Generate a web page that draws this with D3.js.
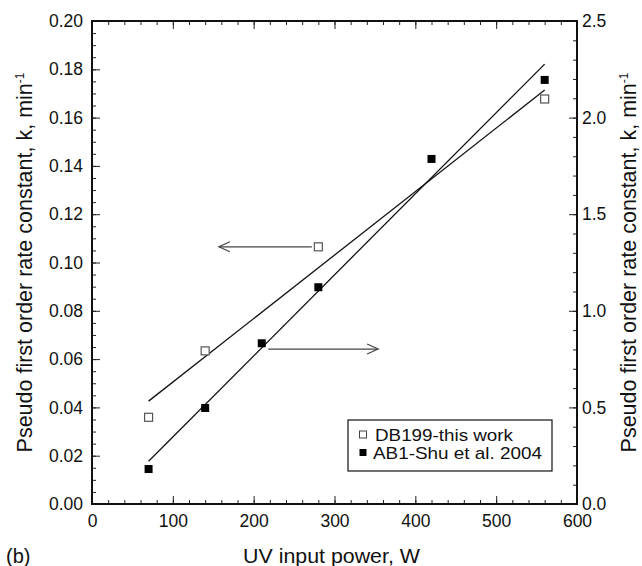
<!DOCTYPE html>
<html>
<head>
<meta charset="utf-8">
<script src="https://cdn.jsdelivr.net/npm/d3@7"></script>
<style>
  body { margin: 0; background: #fff; }
  text { font-family: "Liberation Sans", Arial, sans-serif; fill: #111; }
</style>
</head>
<body>
<svg id="drawing_region"></svg>
<script>
// tick labels
const xTicks = [0, 100, 200, 300, 400, 500, 600];
const leftTicks = [0, 0.02, 0.04, 0.06, 0.08, 0.10, 0.12, 0.14, 0.16, 0.18, 0.20];
const rightTicks = [0, 0.5, 1.0, 1.5, 2.0, 2.5];

// DB199-this work (left axis)
const powerDB = [70, 140, 280, 560];
const kDB = [0.0359, 0.0634, 0.1065, 0.1677];

// AB1-Shu et al. 2004 (right axis)
const powerAB = [70, 140, 210, 280, 420, 560];
const kAB = [0.181, 0.497, 0.832, 1.122, 1.786, 2.195];

// linear fit end points
const fitPower = [70, 560];
const fitDB = [0.0426, 0.1714];
const fitAB = [0.221, 2.277];

// axis pointer arrows: [x from, x to, y]
const arrowLeft = [272, 157, 0.1065];   // left axis units
const arrowRight = [218, 354, 0.802];   // right axis units

const config = {
    width: 642,
    height: 566,
    margin: {top: 21, right: 65, bottom: 62, left: 92},
};

const svg = d3.select('#drawing_region')
    .attr('width', config.width)
    .attr('height', config.height);

const plotLeft = config.margin.left;
const plotRight = config.width - config.margin.right;
const plotTop = config.margin.top;
const plotBottom = config.height - config.margin.bottom;

const xscale = d3.scaleLinear().domain([0, 600]).range([plotLeft, plotRight]);
const yleft = d3.scaleLinear().domain([0, 0.2]).range([plotBottom, plotTop]);
const yright = d3.scaleLinear().domain([0, 2.5]).range([plotBottom, plotTop]);

const fontTick = '17.5px';

// minor ticks first, then majors with labels
function drawAxis(axisFn, scale, major, minor, transform, fmt, pad) {
    svg.append('g')
        .attr('transform', transform)
        .call(axisFn(scale).tickValues(minor).tickSize(-4).tickFormat(''))
        .call(g => g.select('.domain').remove());
    const g = svg.append('g')
        .attr('transform', transform)
        .call(axisFn(scale).tickValues(major).tickSize(-8).tickPadding(pad).tickFormat(fmt))
        .call(g => g.select('.domain').remove());
    g.selectAll('text').style('font-size', fontTick).attr('fill', '#111');
    svg.selectAll('.tick line').attr('stroke', '#222').attr('stroke-width', 1);
    return g;
}

drawAxis(d3.axisBottom, xscale, xTicks, xscale.ticks(30), `translate(0,${plotBottom})`, d3.format('d'), 11);
drawAxis(d3.axisTop, xscale, xTicks, xscale.ticks(30), `translate(0,${plotTop})`, () => '', 0);
drawAxis(d3.axisLeft, yleft, leftTicks, yleft.ticks(50), `translate(${plotLeft},0)`, d3.format('.2f'), 9);
drawAxis(d3.axisRight, yright, rightTicks, yright.ticks(25), `translate(${plotRight},0)`, d3.format('.1f'), 5);

// frame
svg.append('rect')
    .attr('x', plotLeft).attr('y', plotTop)
    .attr('width', plotRight - plotLeft).attr('height', plotBottom - plotTop)
    .attr('fill', 'none').attr('stroke', '#111').attr('stroke-width', 2);

// fit lines
const lineDB = d3.line().x(d => xscale(d[0])).y(d => yleft(d[1]));
const lineAB = d3.line().x(d => xscale(d[0])).y(d => yright(d[1]));
svg.append('path')
    .attr('d', lineDB(fitPower.map((p, i) => [p, fitDB[i]])))
    .attr('fill', 'none').attr('stroke', '#111').attr('stroke-width', 1.3);
svg.append('path')
    .attr('d', lineAB(fitPower.map((p, i) => [p, fitAB[i]])))
    .attr('fill', 'none').attr('stroke', '#111').attr('stroke-width', 1.3);

// arrows
function arrow(x0, x1, y) {
    const dir = x1 > x0 ? 1 : -1;
    const g = svg.append('g').attr('stroke', '#444').attr('stroke-width', 1.2).attr('fill', 'none');
    g.append('line').attr('x1', x0).attr('x2', x1).attr('y1', y).attr('y2', y);
    g.append('path').attr('d', `M${x1 - dir * 11},${y - 5}L${x1},${y}L${x1 - dir * 11},${y + 5}`);
}
arrow(xscale(arrowLeft[0]), xscale(arrowLeft[1]), yleft(arrowLeft[2]));
arrow(xscale(arrowRight[0]), xscale(arrowRight[1]), yright(arrowRight[2]));

// markers
const ms = 8;
svg.append('g').selectAll('rect')
    .data(powerDB.map((p, i) => [p, kDB[i]]))
    .enter().append('rect')
    .attr('x', d => xscale(d[0]) - ms / 2)
    .attr('y', d => yleft(d[1]) - ms / 2)
    .attr('width', ms).attr('height', ms)
    .attr('fill', '#fff').attr('stroke', '#555').attr('stroke-width', 1.2);
svg.append('g').selectAll('rect')
    .data(powerAB.map((p, i) => [p, kAB[i]]))
    .enter().append('rect')
    .attr('x', d => xscale(d[0]) - ms / 2)
    .attr('y', d => yright(d[1]) - ms / 2)
    .attr('width', ms).attr('height', ms)
    .attr('fill', '#000');

// legend
const legend = svg.append('g');
legend.append('rect')
    .attr('x', 348).attr('y', 420).attr('width', 204).attr('height', 51)
    .attr('fill', '#fff').attr('stroke', '#111').attr('stroke-width', 1.2);
legend.append('rect')
    .attr('x', 359.5).attr('y', 431).attr('width', 7).attr('height', 7)
    .attr('fill', '#fff').attr('stroke', '#444').attr('stroke-width', 1);
legend.append('rect')
    .attr('x', 359.5).attr('y', 449).attr('width', 7).attr('height', 7)
    .attr('fill', '#000');
legend.append('text')
    .attr('x', 375).attr('y', 441).style('font-size', '17px')
    .attr('textLength', 138).attr('lengthAdjust', 'spacingAndGlyphs')
    .text('DB199-this work');
legend.append('text')
    .attr('x', 373).attr('y', 459).style('font-size', '17px')
    .attr('textLength', 169).attr('lengthAdjust', 'spacingAndGlyphs')
    .text('AB1-Shu et al. 2004');

// axis titles
function yTitle(x) {
    const t = svg.append('text')
        .attr('transform', `translate(${x},${(plotTop + plotBottom) / 2}) rotate(-90)`)
        .attr('text-anchor', 'middle')
        .style('font-size', '21.5px');
    t.append('tspan').text('Pseudo first order rate constant, k, min');
    t.append('tspan').attr('dy', -8).style('font-size', '12px').text('-1');
    return t;
}
yTitle(32);
yTitle(636);

svg.append('text')
    .attr('x', 331.5).attr('y', 563)
    .attr('text-anchor', 'middle')
    .style('font-size', '20px')
    .attr('textLength', 177).attr('lengthAdjust', 'spacingAndGlyphs')
    .text('UV input power, W');

svg.append('text')
    .attr('x', 6).attr('y', 563)
    .style('font-size', '20px')
    .text('(b)');
</script>
</body>
</html>
